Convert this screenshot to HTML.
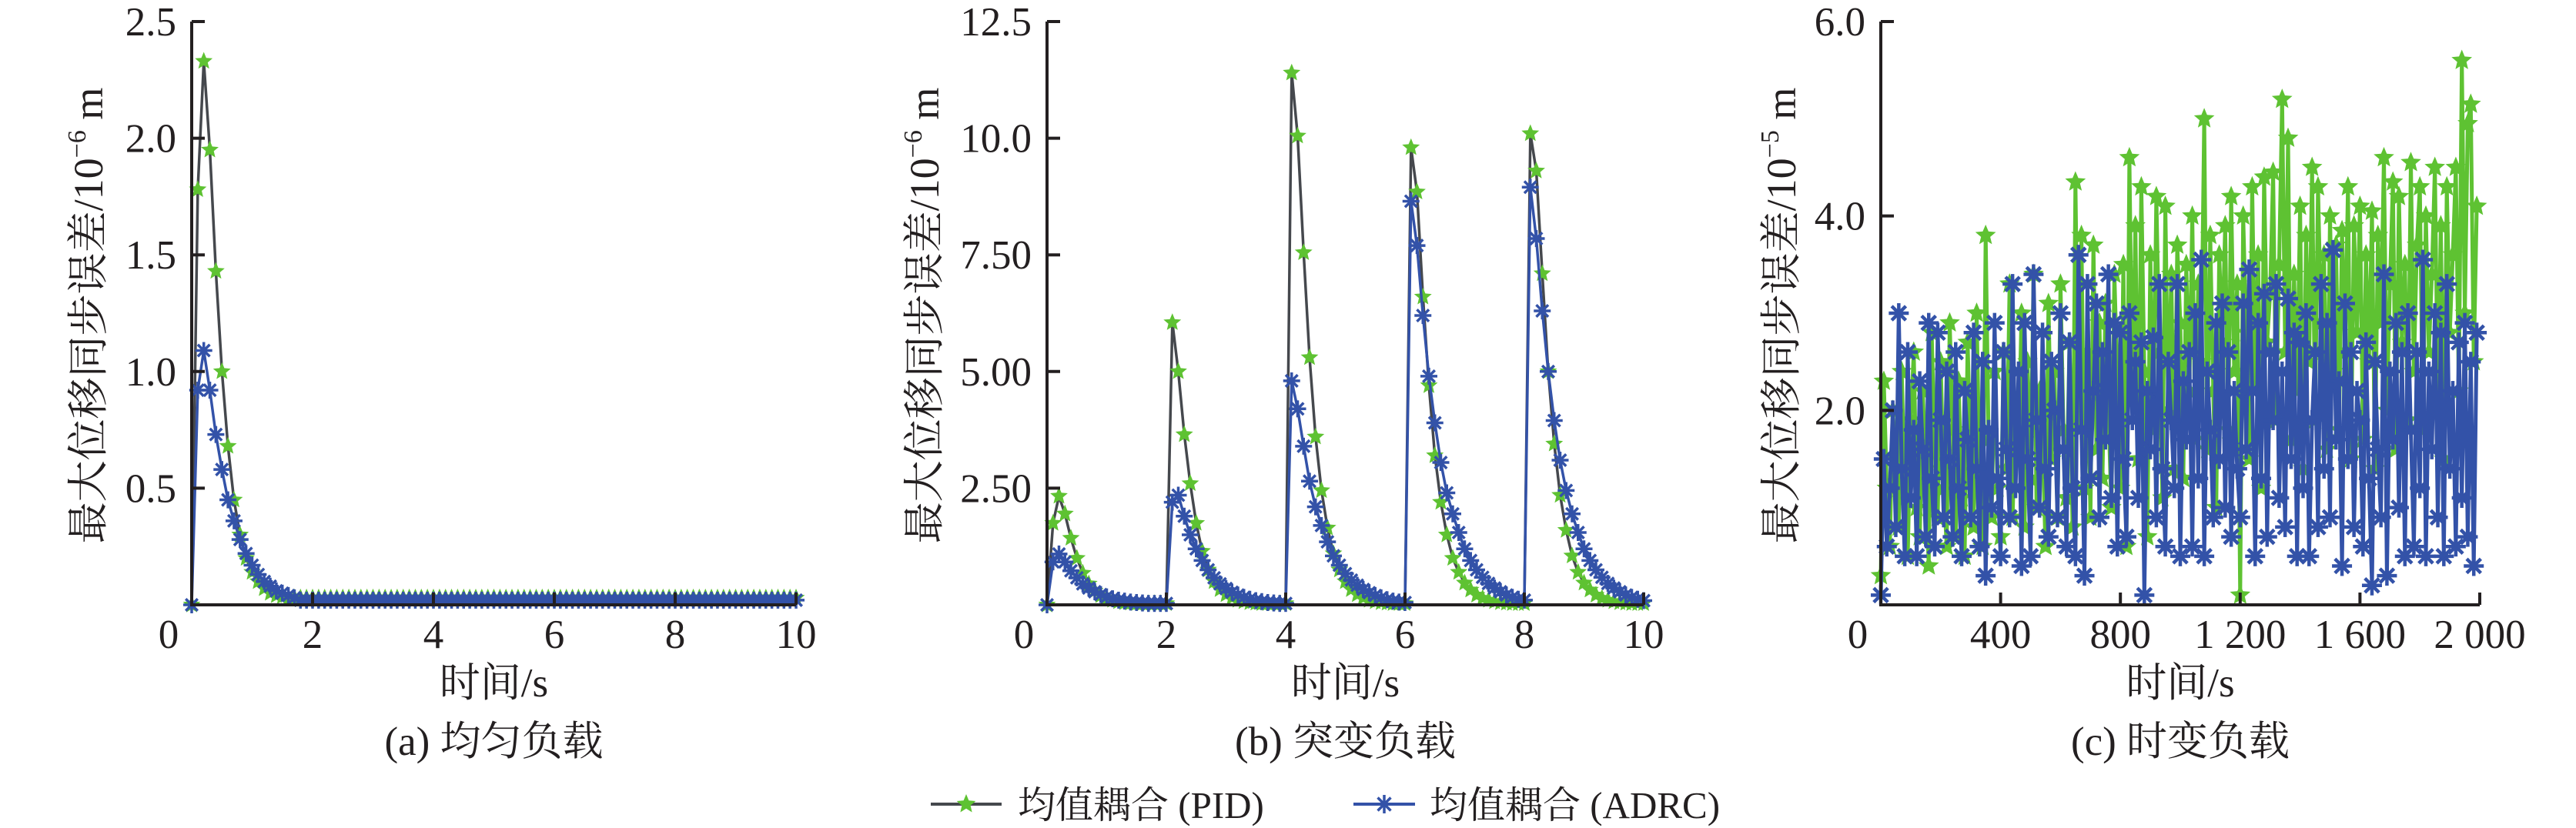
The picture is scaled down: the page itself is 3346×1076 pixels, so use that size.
<!DOCTYPE html>
<html><head><meta charset="utf-8"><style>
html,body{margin:0;padding:0;background:#fff;}
svg{display:block;}
text{font-family:"Liberation Serif","Noto Serif CJK SC",serif;fill:#231f20;}
</style></head><body>
<svg id="chart" width="3346" height="1076" viewBox="0 0 3346 1076" xmlns="http://www.w3.org/2000/svg">
<g id="panels"></g>
<g>
  <g>
    <line x1="1209" y1="1045" x2="1301" y2="1045" stroke="#45484d" stroke-width="4"/>
    <path id="legStar" fill="#5ec232"/>
    <text x="1322" y="1063" font-size="49">均值耦合 (PID)</text>
  </g>
  <g>
    <line x1="1758" y1="1045" x2="1838" y2="1045" stroke="#3352a8" stroke-width="4"/>
    <g id="legAst" stroke="#3352a8" stroke-width="3.5"></g>
    <text x="1857" y="1063" font-size="49">均值耦合 (ADRC)</text>
  </g>
</g>
</svg>
<script>
// ---- data: panel (a) uniform load, t = 0..10 step 0.1 ----
const aPid = [0,1.78,2.33,1.95,1.43,1.0,0.68,0.45,0.30,0.20,0.14,0.10,0.07,0.05,0.04,0.035,0.03,0.03,0.03,0.03,
0.03,0.03,0.03,0.03,0.03,0.03,0.03,0.03,0.03,0.03,0.03,0.03,0.03,0.03,0.03,0.03,0.03,0.03,0.03,0.03,
0.03,0.03,0.03,0.03,0.03,0.03,0.03,0.03,0.03,0.03,0.03,0.03,0.03,0.03,0.03,0.03,0.03,0.03,0.03,0.03,
0.03,0.03,0.03,0.03,0.03,0.03,0.03,0.03,0.03,0.03,0.03,0.03,0.03,0.03,0.03,0.03,0.03,0.03,0.03,0.03,
0.03,0.03,0.03,0.03,0.03,0.03,0.03,0.03,0.03,0.03,0.03,0.03,0.03,0.03,0.03,0.03,0.03,0.03,0.03,0.03,0.03];
const aAdrc = [0,0.92,1.09,0.92,0.73,0.58,0.45,0.36,0.28,0.22,0.17,0.13,0.10,0.08,0.06,0.05,0.04,0.03,0.02,0.02,
0.02,0.02,0.02,0.02,0.02,0.02,0.02,0.02,0.02,0.02,0.02,0.02,0.02,0.02,0.02,0.02,0.02,0.02,0.02,0.02,
0.02,0.02,0.02,0.02,0.02,0.02,0.02,0.02,0.02,0.02,0.02,0.02,0.02,0.02,0.02,0.02,0.02,0.02,0.02,0.02,
0.02,0.02,0.02,0.02,0.02,0.02,0.02,0.02,0.02,0.02,0.02,0.02,0.02,0.02,0.02,0.02,0.02,0.02,0.02,0.02,
0.02,0.02,0.02,0.02,0.02,0.02,0.02,0.02,0.02,0.02,0.02,0.02,0.02,0.02,0.02,0.02,0.02,0.02,0.02,0.02,0.02];
// ---- panel (b) step load ----
const bPid = [0,1.75,2.33,1.95,1.43,1.0,0.68,0.45,0.30,0.20,0.14,0.10,0.07,0.05,0.04,0.03,0.03,0.03,0.03,0.03,
0.03,6.05,5.0,3.65,2.6,1.75,1.15,0.75,0.5,0.33,0.22,0.15,0.1,0.07,0.05,0.04,0.03,0.03,0.03,0.03,
0.03,11.4,10.05,7.55,5.3,3.6,2.45,1.65,1.1,0.75,0.5,0.33,0.22,0.15,0.1,0.07,0.05,0.04,0.03,0.03,
0.03,9.8,8.85,6.6,4.7,3.2,2.2,1.5,1.0,0.7,0.47,0.32,0.21,0.14,0.1,0.07,0.05,0.04,0.03,0.03,
0.03,10.1,9.3,7.1,5.0,3.45,2.35,1.6,1.05,0.7,0.47,0.32,0.21,0.14,0.1,0.07,0.05,0.04,0.03,0.03,0.03];
const bAdrc = [0,0.92,1.09,0.92,0.73,0.58,0.45,0.36,0.28,0.22,0.17,0.13,0.10,0.08,0.06,0.05,0.04,0.03,0.03,0.03,
0.03,2.2,2.35,1.9,1.5,1.2,0.95,0.75,0.58,0.45,0.35,0.27,0.21,0.16,0.12,0.09,0.07,0.05,0.04,0.03,
0.03,4.8,4.2,3.4,2.65,2.1,1.7,1.35,1.05,0.85,0.67,0.53,0.42,0.33,0.26,0.2,0.15,0.11,0.08,0.06,
0.05,8.65,7.7,6.2,4.9,3.9,3.05,2.4,1.95,1.55,1.2,0.95,0.75,0.59,0.46,0.36,0.28,0.21,0.16,0.12,
0.1,8.95,7.85,6.3,5.0,3.95,3.1,2.45,1.95,1.55,1.2,0.95,0.75,0.59,0.46,0.36,0.28,0.21,0.16,0.12,0.09];
// ---- panel (c) time-varying load, t = 0..1990 step 10 ----
const cPid = [0.3,2.3,1.2,0.6,2.0,1.5,0.8,2.4,1.1,0.5,1.9,2.6,1.0,0.7,2.2,1.4,0.4,2.8,1.6,0.9,2.5,1.2,0.6,2.9,1.8,0.7,2.3,1.1,0.5,2.7,1.5,0.8,3.0,1.3,0.6,3.8,1.7,0.9,2.4,1.2,
0.7,2.6,1.4,3.3,0.9,2.1,1.6,3.0,0.8,2.5,1.3,3.4,1.0,2.2,1.7,0.6,3.1,1.5,2.4,0.9,3.3,1.8,1.1,2.7,0.8,4.35,1.9,3.8,1.2,2.6,0.9,3.7,1.6,2.9,1.3,3.1,2.0,1.0,3.4,2.3,
1.2,3.5,0.6,4.6,2.1,3.9,1.5,4.3,2.4,0.7,3.6,1.8,4.2,2.6,1.1,4.1,2.0,3.4,1.4,3.7,2.9,1.3,3.5,2.2,4.0,1.7,3.3,2.5,5.0,1.6,3.8,2.2,1.0,3.6,2.7,3.9,1.8,4.2,2.4,3.3,
0.1,4.0,2.8,1.5,4.3,2.3,3.6,1.2,4.4,2.7,3.2,4.45,1.9,3.5,5.2,2.6,4.8,1.7,3.4,2.2,4.1,1.4,3.8,2.5,4.5,1.9,4.3,2.9,3.6,1.6,4.0,2.4,3.7,1.8,3.85,2.6,4.3,1.5,3.9,2.8,
4.1,1.7,3.6,2.5,4.05,1.4,3.8,2.9,4.6,2.0,3.3,4.35,1.6,4.2,2.7,3.5,1.9,4.55,2.4,3.7,4.3,1.8,4.0,2.6,3.4,4.5,2.1,3.9,1.5,4.3,2.8,3.6,4.5,2.2,5.6,3.0,4.95,5.15,2.5,4.1];
const cAdrc = [0.1,1.5,0.6,1.2,2.0,0.8,3.0,1.4,0.5,2.6,1.1,1.8,0.5,2.3,1.6,0.7,2.9,1.3,0.6,2.8,1.9,0.9,2.4,1.5,0.7,2.6,1.2,0.5,2.2,1.7,0.9,2.8,1.4,0.6,2.5,0.3,1.8,1.0,2.9,1.3,
0.5,2.6,1.6,0.9,3.3,1.2,2.4,0.4,2.9,1.5,0.5,3.4,1.9,1.0,2.8,1.4,0.7,2.5,2.0,0.9,3.0,1.6,0.6,2.7,1.2,0.5,3.6,1.8,0.3,3.3,1.3,2.2,3.1,0.9,2.6,1.7,3.4,1.1,2.9,0.6,
2.8,1.5,0.7,3.0,1.9,2.5,1.1,2.7,0.1,2.2,1.6,2.75,0.9,3.3,1.4,0.6,2.5,1.9,1.2,3.3,0.5,2.3,1.7,2.6,0.6,3.0,1.3,3.55,0.5,2.4,1.8,0.9,2.9,1.5,3.1,1.0,2.6,0.7,2.2,1.4,
0.9,3.1,1.6,3.45,2.2,0.5,2.9,1.3,3.2,0.7,2.6,1.9,3.3,1.1,2.4,0.8,3.15,1.5,2.8,0.5,2.7,1.2,3.0,0.5,1.9,2.6,0.8,3.3,1.4,2.9,0.9,3.65,1.7,2.3,0.4,3.1,1.5,2.6,0.8,2.2,
1.9,0.6,2.7,1.3,0.2,2.5,1.6,0.9,3.4,0.3,2.4,1.7,2.9,1.0,2.6,0.5,3.0,1.8,0.6,2.6,1.2,3.55,0.5,2.4,1.6,3.0,0.9,2.8,0.5,3.3,1.4,2.2,0.6,2.7,1.1,2.9,0.7,2.5,0.4,2.8];
// tick values & labels
const aYTicks = [0.5,1.0,1.5,2.0,2.5];
const aYLabels = ["0.5","1.0","1.5","2.0","2.5"];
const bYTicks = [2.5,5,7.5,10,12.5];
const bYLabels = ["2.50","5.00","7.50","10.0","12.5"];
const cYTicks = [2,4,6];
const cYLabels = ["2.0","4.0","6.0"];
const abXTicks = [0,2,4,6,8,10];
const abXLabels = ["0","2","4","6","8","10"];
const cXTicks = [0,400,800,1200,1600,2000];
const cXLabels = ["0","400","800","1 200","1 600","2 000"];

const NS = "http://www.w3.org/2000/svg";
function mk(tag, attrs, parent){const e=document.createElementNS(NS,tag);for(const k in attrs)e.setAttribute(k,attrs[k]);if(parent)parent.appendChild(e);return e;}
function starPath(cx,cy,R){const r=R*0.45;let d="";for(let i=0;i<10;i++){const rr=i%2?r:R;const a=-Math.PI/2+i*Math.PI/5;d+=(i?"L":"M")+(cx+rr*Math.cos(a)).toFixed(1)+" "+(cy+rr*Math.sin(a)).toFixed(1);}return d+"Z";}
function asterisk(g,cx,cy,R){for(let i=0;i<4;i++){const a=i*Math.PI/4;mk("line",{x1:cx-R*Math.cos(a),y1:cy-R*Math.sin(a),x2:cx+R*Math.cos(a),y2:cy+R*Math.sin(a)},g);}}

const panelsG=document.getElementById("panels");
function panel(cfg){
  const g=mk("g",{},panelsG);
  
  
  const X=v=>cfg.x0+(v-cfg.xmin)/(cfg.xmax-cfg.xmin)*(cfg.x1-cfg.x0);
  const Y=v=>786-(v/cfg.ymax)*(786-28);
  const series=[{d:cfg.pid,line:cfg.pidLine,kind:"star",nm:"series-pid"},{d:cfg.adrc,line:"#3352a8",kind:"ast",nm:"series-adrc"}];
  series.forEach(s=>{
    const sg=mk("g",{},g);
    
    
    const pts=s.d.map((v,i)=>X(cfg.xmin+i*cfg.dx).toFixed(1)+","+Y(v).toFixed(1)).join(" ");
    const pl=mk("polyline",{points:pts,fill:"none",stroke:s.line,"stroke-width":cfg.lw,"stroke-linejoin":"round"},sg);
    
    
    const mg=mk("g",s.kind==="star"?{fill:"#5ec232"}:{stroke:"#3352a8","stroke-width":cfg.mw},sg);
    
    
    s.d.forEach((v,i)=>{const cx=X(cfg.xmin+i*cfg.dx),cy=Y(v);
      if(s.kind==="star"){mk("path",{d:starPath(cx,cy,cfg.ms+1)},mg);}else{asterisk(mg,cx,cy,cfg.ms);}});
  });
  const ax=mk("g",{stroke:"#231f20","stroke-width":4,fill:"none"},g);
  
  
  mk("path",{d:`M${cfg.x0} 28 V786 H${cfg.x1}`},ax);
  cfg.yt.forEach(v=>mk("line",{x1:cfg.x0,y1:Y(v),x2:cfg.x0+17,y2:Y(v)},ax));
  cfg.xt.forEach(v=>{if(v!==cfg.xmin)mk("line",{x1:X(v),y1:786,x2:X(v),y2:770},ax);});
  cfg.yt.forEach((v,i)=>{const t=mk("text",{x:cfg.x0-20,y:Y(v)+18,"font-size":53,"text-anchor":"end"},g);t.textContent=cfg.yl[i];
    
    });
  cfg.xt.forEach((v,i)=>{const t=mk("text",{x:v===cfg.xmin?X(v)-30:X(v),y:842,"font-size":53,"text-anchor":"middle"},g);t.textContent=cfg.xl[i];
    
    });
  const cx=(cfg.x0+cfg.x1)/2;
  const xt=mk("text",{x:cx,y:905,"font-size":53,"text-anchor":"middle"},g);xt.textContent="时间/s";
  
  
  const cap=mk("text",{x:cx,y:981,"font-size":53,"text-anchor":"middle"},g);cap.textContent=cfg.caption;
  
  
  const yt=mk("text",{x:0,y:0,"font-size":54,"text-anchor":"middle",transform:`translate(${cfg.tx+19},410) rotate(-90)`},g);
  
  
  yt.appendChild(document.createTextNode("最大位移同步误差/10"));
  const sup=mk("tspan",{dy:-22,"font-size":34},yt);sup.textContent="−"+cfg.exp;
  const m=mk("tspan",{dy:22},yt);m.textContent=" m";
}
panel({name:"panel-a-uniform-load",x0:249,x1:1034,xmin:0,xmax:10,dx:0.1,ymax:2.5,pid:aPid,adrc:aAdrc,pidLine:"#45484d",lw:3.5,mw:3.5,ms:11,
  yt:aYTicks,yl:aYLabels,xt:abXTicks,xl:abXLabels,caption:"(a) 均匀负载",tx:114,exp:"6"});
panel({name:"panel-b-step-load",x0:1360,x1:2135,xmin:0,xmax:10,dx:0.1,ymax:12.5,pid:bPid,adrc:bAdrc,pidLine:"#45484d",lw:3.5,mw:3.5,ms:11,
  yt:bYTicks,yl:bYLabels,xt:abXTicks,xl:abXLabels,caption:"(b) 突变负载",tx:1200,exp:"6"});
panel({name:"panel-c-time-varying-load",x0:2443,x1:3221,xmin:0,xmax:2000,dx:10,ymax:6,pid:cPid,adrc:cAdrc,pidLine:"#5ec232",lw:5,mw:4.5,ms:13,
  yt:cYTicks,yl:cYLabels,xt:cXTicks,xl:cXLabels,caption:"(c) 时变负载",tx:2313,exp:"5"});
document.getElementById("legStar").setAttribute("d",starPath(1255,1045,13));
asterisk(document.getElementById("legAst"),1798,1045,12);
</script>
</body></html>
